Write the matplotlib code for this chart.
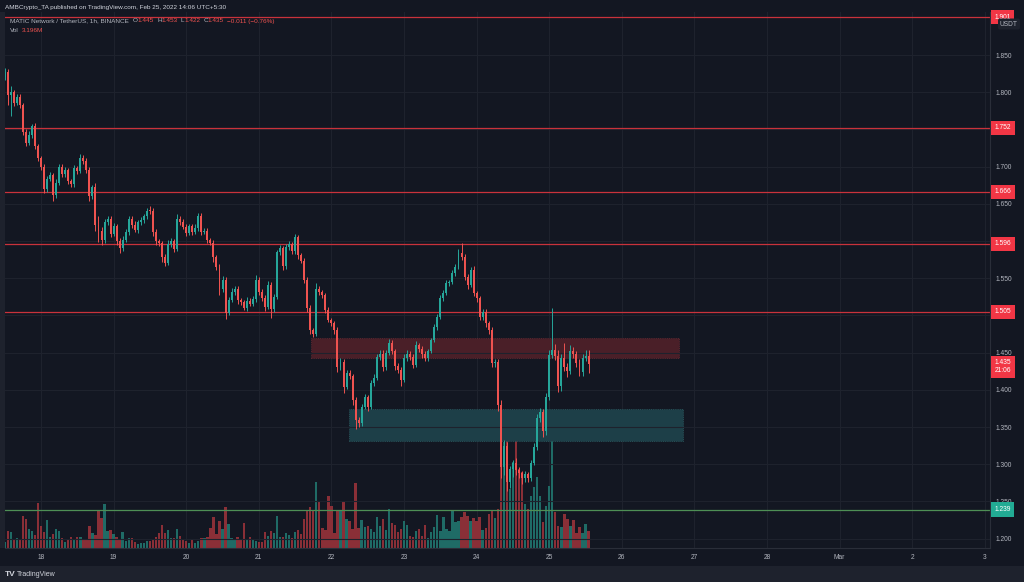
import numpy as np
import matplotlib.pyplot as plt
from matplotlib.patches import Rectangle
from matplotlib.transforms import blended_transform_factory

plt.rcParams["font.family"] = ["Liberation Sans", "DejaVu Sans"]

# MATIC/USDT 1h candles, Feb 17 12:00 -> Feb 25 13:00 (hours counted from Feb 18 00:00)
first_hour = -12
first_open = 1.820
closes = [
    1.827, 1.796, 1.800, 1.786, 1.794, 1.783, 1.747, 1.732, 1.743, 1.754,
    1.728, 1.711, 1.700, 1.670, 1.683, 1.689, 1.662, 1.678, 1.700, 1.690,
    1.695, 1.680, 1.676, 1.698, 1.694, 1.712, 1.708, 1.696, 1.660, 1.672,
    1.622, 1.614, 1.601, 1.625, 1.630, 1.610, 1.620, 1.600, 1.590, 1.602,
    1.612, 1.630, 1.622, 1.615, 1.625, 1.628, 1.633, 1.641, 1.640, 1.612,
    1.600, 1.597, 1.578, 1.571, 1.596, 1.600, 1.589, 1.630, 1.626, 1.619,
    1.611, 1.620, 1.612, 1.618, 1.633, 1.612, 1.614, 1.601, 1.598, 1.578,
    1.565, 1.535, 1.548, 1.503, 1.521, 1.532, 1.536, 1.521, 1.518, 1.510,
    1.520, 1.515, 1.522, 1.548, 1.532, 1.524, 1.511, 1.541, 1.508, 1.525,
    1.585, 1.590, 1.566, 1.592, 1.596, 1.586, 1.605, 1.581, 1.573, 1.548,
    1.510, 1.480, 1.475, 1.535, 1.531, 1.527, 1.507, 1.494, 1.490, 1.480,
    1.430, 1.438, 1.404, 1.423, 1.418, 1.386, 1.360, 1.356, 1.377, 1.390,
    1.377, 1.409, 1.416, 1.444, 1.448, 1.430, 1.450, 1.463, 1.452, 1.432,
    1.427, 1.413, 1.443, 1.448, 1.444, 1.434, 1.460, 1.455, 1.448, 1.443,
    1.452, 1.467, 1.484, 1.498, 1.523, 1.530, 1.544, 1.545, 1.557, 1.565,
    1.584, 1.578, 1.552, 1.541, 1.561, 1.530, 1.523, 1.498, 1.505, 1.490,
    1.480, 1.436, 1.438, 1.380, 1.296, 1.325, 1.276, 1.293, 1.302, 1.292,
    1.288, 1.281, 1.287, 1.282, 1.302, 1.323, 1.362, 1.370, 1.345, 1.390,
    1.447, 1.454, 1.445, 1.405, 1.443, 1.430, 1.425, 1.452, 1.448, 1.436,
    1.424, 1.443, 1.445, 1.435,
]
# wick lengths in thousandths of a dollar
upper_wick = [
    5, 4, 8, 3, 4, 3, 3, 4, 5, 3,
    4, 3, 3, 4, 5, 4, 3, 6, 4, 3,
    4, 3, 3, 4, 3, 5, 4, 3, 4, 3,
    6, 12, 5, 4, 4, 3, 4, 3, 4, 5,
    4, 4, 3, 5, 3, 4, 3, 4, 6, 5,
    4, 3, 3, 4, 5, 4, 3, 6, 4, 3,
    4, 3, 3, 5, 4, 4, 3, 4, 3, 3,
    3, 4, 5, 3, 4, 5, 3, 4, 3, 3,
    5, 3, 4, 6, 4, 3, 3, 5, 4, 4,
    3, 4, 3, 4, 4, 3, 5, 3, 3, 4,
    3, 4, 3, 8, 5, 3, 3, 4, 3, 3,
    4, 5, 3, 4, 3, 3, 4, 3, 4, 5,
    3, 4, 5, 4, 5, 6, 4, 5, 4, 3,
    4, 3, 5, 6, 4, 4, 5, 3, 4, 4,
    3, 3, 4, 4, 5, 4, 3, 3, 4, 4,
    5, 13, 4, 3, 4, 5, 3, 3, 4, 3,
    3, 4, 3, 3, 6, 8, 5, 5, 4, 6,
    4, 3, 4, 3, 4, 5, 6, 5, 4, 6,
    6, 56, 8, 8, 5, 20, 6, 8, 5, 4,
    5, 5, 8, 8,
]
lower_wick = [
    3, 13, 28, 4, 3, 4, 5, 4, 3, 4,
    4, 3, 4, 5, 4, 3, 8, 4, 3, 4,
    4, 4, 3, 3, 4, 3, 4, 5, 6, 4,
    8, 15, 6, 3, 4, 4, 3, 5, 6, 4,
    3, 4, 4, 3, 4, 3, 4, 3, 4, 5,
    5, 4, 6, 5, 3, 4, 4, 3, 4, 3,
    4, 3, 4, 3, 5, 4, 3, 4, 4, 6,
    4, 8, 3, 8, 3, 3, 4, 5, 4, 3,
    4, 3, 3, 4, 5, 4, 5, 3, 12, 4,
    3, 4, 5, 3, 4, 3, 4, 5, 3, 4,
    6, 5, 4, 3, 4, 3, 4, 3, 4, 5,
    6, 4, 8, 3, 4, 6, 12, 6, 4, 3,
    5, 3, 4, 3, 4, 5, 4, 3, 4, 6,
    5, 8, 3, 4, 4, 5, 3, 4, 5, 4,
    4, 3, 3, 4, 3, 4, 3, 4, 3, 4,
    3, 3, 4, 5, 3, 4, 5, 4, 4, 6,
    5, 6, 5, 8, 15, 10, 12, 8, 10, 6,
    6, 8, 5, 6, 4, 3, 4, 5, 8, 6,
    4, 4, 5, 8, 6, 5, 8, 4, 5, 6,
    5, 6, 4, 13,
]
# volume, millions of MATIC
volume_m = [
    1.2, 3.4, 3.2, 1.8, 2.0, 1.8, 6.4, 5.8, 3.8, 3.4,
    2.6, 9.0, 4.4, 3.2, 5.6, 2.2, 2.8, 3.8, 3.4, 2.0,
    1.2, 1.8, 2.2, 1.6, 2.2, 2.2, 1.6, 1.8, 4.4, 3.0,
    2.6, 7.6, 6.0, 8.8, 3.4, 3.6, 2.8, 2.2, 1.8, 3.2,
    1.4, 2.0, 2.0, 1.2, 0.8, 1.0, 1.0, 1.4, 1.4, 1.8,
    2.2, 3.0, 4.6, 3.0, 3.6, 2.0, 2.0, 3.8, 2.4, 1.6,
    1.4, 1.0, 1.6, 1.0, 1.4, 2.0, 2.0, 2.2, 4.0, 6.2,
    2.8, 5.4, 3.8, 8.2, 4.8, 2.0, 1.8, 2.2, 1.6, 5.0,
    1.8, 2.2, 1.6, 1.4, 1.2, 1.2, 3.2, 2.4, 3.4, 3.0,
    6.4, 2.2, 2.2, 3.0, 2.6, 2.0, 3.2, 3.6,
    2.8, 5.8, 7.6, 8.2, 7.6, 13.2, 9.4, 4.0, 3.6, 10.4,
    8.4, 3.0, 7.4, 7.6, 9.2, 5.8, 5.4, 3.8, 13.0, 4.0,
    5.6, 4.2, 4.4, 3.8, 3.2, 6.2, 4.4, 5.8, 3.6, 7.8,
    5.0, 4.6, 3.2, 3.8, 5.4, 4.6, 2.4, 2.2, 3.4, 3.8,
    2.4, 4.6, 2.0, 3.2, 4.2, 6.6, 3.4, 6.2, 3.8, 3.4,
    7.6, 5.2, 5.4, 6.2, 7.2, 6.4, 5.4, 6.0, 5.4, 6.2,
    3.6, 4.0, 6.8, 7.4, 6.0, 7.8,
    16.4, 21.2, 21.4, 11.8, 17.2, 21.8, 15.8, 15.2, 8.8, 7.8,
    10.4, 12.2, 14.2, 10.4, 5.2, 8.4, 12.4, 25.8, 7.2, 4.4,
    4.2, 6.8, 5.8, 4.4, 5.6, 3.0, 4.2, 3.0, 4.8, 3.4,
]

day_labels = ["18", "19", "20", "21", "22", "23", "24", "25", "26", "27", "28", "Mar", "2", "3"]
# labelled price ticks (the others sit under the level tags)
price_ticks = [1.200, 1.250, 1.300, 1.350, 1.400, 1.450, 1.550, 1.650, 1.700, 1.800, 1.850]
grid_levels = [1.500, 1.600, 1.750]

resistance_levels = [1.901, 1.752, 1.666, 1.596, 1.505]
support_level = 1.239
last_price = 1.435
# zones: (start hour, end hour, low price, high price)
supply_zone = (89.3, 210.9, 1.443, 1.470)
demand_zone = (101.8, 212.2, 1.331, 1.374)

BG = "#131722"
UP = "#26a69a"
DOWN = "#ef5350"
TXT = "#b2b5be"
GRID = "#1e222d"
RED_LINE = "#c9323b"
FS = 4.8

opens = [first_open] + closes[:-1]
hours = np.arange(first_hour, first_hour + len(closes))
o = np.array(opens)
c = np.array(closes)
hi = np.maximum(o, c) + np.array(upper_wick) / 1000
lo = np.minimum(o, c) - np.array(lower_wick) / 1000
up = c >= o
cols = np.where(up, UP, DOWN)

fig = plt.figure(figsize=(10.24, 5.82), dpi=100, facecolor=BG)
fig.add_artist(Rectangle((0, 0), 1, 16 / 582, transform=fig.transFigure,
                         fc="#1e222d", ec="none", zorder=0))
fig.add_artist(Rectangle((0, 34 / 582), 5 / 1024, 536 / 582, transform=fig.transFigure,
                         fc="#1e222d", ec="none", zorder=0))

vax = fig.add_axes([5 / 1024, 34 / 582, 985 / 1024, 536 / 582])
ax = fig.add_axes([5 / 1024, 34 / 582, 985 / 1024, 536 / 582], sharex=vax)
vax.set_facecolor(BG)
ax.patch.set_visible(False)

# volume pane (1 px = 0.2M)
vcols = np.where(up, "#1f6b66", "#8a2f37")
vax.bar(hours, volume_m, width=0.78, color=vcols, zorder=2)
vax.set_ylim(0, 107.2)
vax.set_yticks([])
vax.set_xticks(np.arange(0, 14 * 24, 24))
vax.grid(axis="x", color=GRID, lw=0.8)
for s in vax.spines.values():
    s.set_visible(False)
vax.tick_params(axis="x", length=0, labelbottom=False)

# zones
for (x0, x1, y0, y1), fc, ec in [(supply_zone, "#4a1f28", "#6a2a33"),
                                  (demand_zone, "#1d3f48", "#2c5c62")]:
    ax.add_patch(Rectangle((x0, y0), x1 - x0, y1 - y0, fc=fc, ec=ec, lw=0.6,
                           ls=":", zorder=1))

# horizontal levels
for lvl in resistance_levels:
    ax.axhline(lvl, color=RED_LINE, lw=0.9, zorder=2)
ax.axhline(support_level, color="#4e8f55", lw=0.9, zorder=2)

# candles
ax.vlines(hours, lo, hi, colors=cols, lw=0.7, zorder=3)
body = np.maximum(np.abs(c - o), 0.0012)
ax.bar(hours, body, bottom=np.minimum(o, c), width=0.64, color=cols, zorder=4)

ax.set_xlim(-11.9, 313.7)
ax.set_ylim(1.1874, 1.9078)
ax.set_yticks(price_ticks)
ax.set_yticks(grid_levels, minor=True)
ax.yaxis.tick_right()
ax.yaxis.set_major_formatter(plt.FormatStrFormatter("%.3f"))
ax.grid(axis="y", which="both", color=GRID, lw=0.8)
ax.tick_params(axis="y", which="both", length=0, pad=4.3, labelsize=FS, labelcolor=TXT)
ax.set_xticks(np.arange(0, 14 * 24, 24))
ax.set_xticklabels(day_labels)
ax.tick_params(axis="x", length=0, pad=4, labelsize=FS, labelcolor=TXT)
for name, s in ax.spines.items():
    s.set_visible(name in ("bottom", "right"))
    s.set_color("#2a2e39")
    s.set_linewidth(0.8)

# right-axis price tags
tr = blended_transform_factory(ax.transAxes, ax.transData)
box_kw = dict(transform=tr, fontsize=FS, color="white", va="center", ha="left",
              zorder=10, clip_on=False)
for lvl in resistance_levels:
    ax.text(1.0045, lvl, f"{lvl:.3f}", **box_kw,
            bbox=dict(boxstyle="square,pad=0.55", fc="#f23645", ec="none"))
ax.text(1.0045, support_level, f"{support_level:.3f}", **box_kw,
        bbox=dict(boxstyle="square,pad=0.55", fc="#22ab94", ec="none"))
ax.text(1.0045, last_price - 0.004, f"{last_price:.3f}\n21:06", **box_kw,
        linespacing=1.15, bbox=dict(boxstyle="square,pad=0.55", fc="#f23645", ec="none"))
fig.text(1000 / 1024, 1 - 24 / 582, "USDT", fontsize=FS, color=TXT, va="center",
         bbox=dict(boxstyle="round,pad=0.3", fc="#1e222d", ec="none"))

# header
fig.text(5 / 1024, 1 - 7 / 582, "AMBCrypto_TA published on TradingView.com, Feb 25, 2022 14:06 UTC+5:30",
         fontsize=4.6, color="#d1d4dc", va="center")

renderer = fig.canvas.get_renderer()
y_leg = 1 - 21 / 582
legend_parts = [("MATIC Network / TetherUS, 1h, BINANCE", TXT, 4), ("O", TXT, 0), ("1.445", DOWN, 3),
                ("H", TXT, 0), ("1.453", DOWN, 3), ("L", TXT, 0), ("1.422", DOWN, 3),
                ("C", TXT, 0), ("1.435", DOWN, 3), ("\u22120.011 (\u22120.76%)", DOWN, 0)]
px = 10
for s, col, gap in legend_parts:
    t = fig.text(px / 1024, y_leg, s, fontsize=4.6, color=col, va="center")
    px += t.get_window_extent(renderer).width + gap
fig.text(10 / 1024, 1 - 31 / 582, "Vol", fontsize=4.6, color=TXT, va="center")
fig.text(22 / 1024, 1 - 31 / 582, "3.196M", fontsize=4.6, color=DOWN, va="center")

# footer
fig.text(5 / 1024, 8 / 582, "TV", fontsize=6, color="#d1d4dc", fontweight="bold", va="center")
fig.text(17 / 1024, 8 / 582, "TradingView", fontsize=5, color="#d1d4dc", va="center")

fig.savefig("out.png", dpi=100, facecolor=BG)
